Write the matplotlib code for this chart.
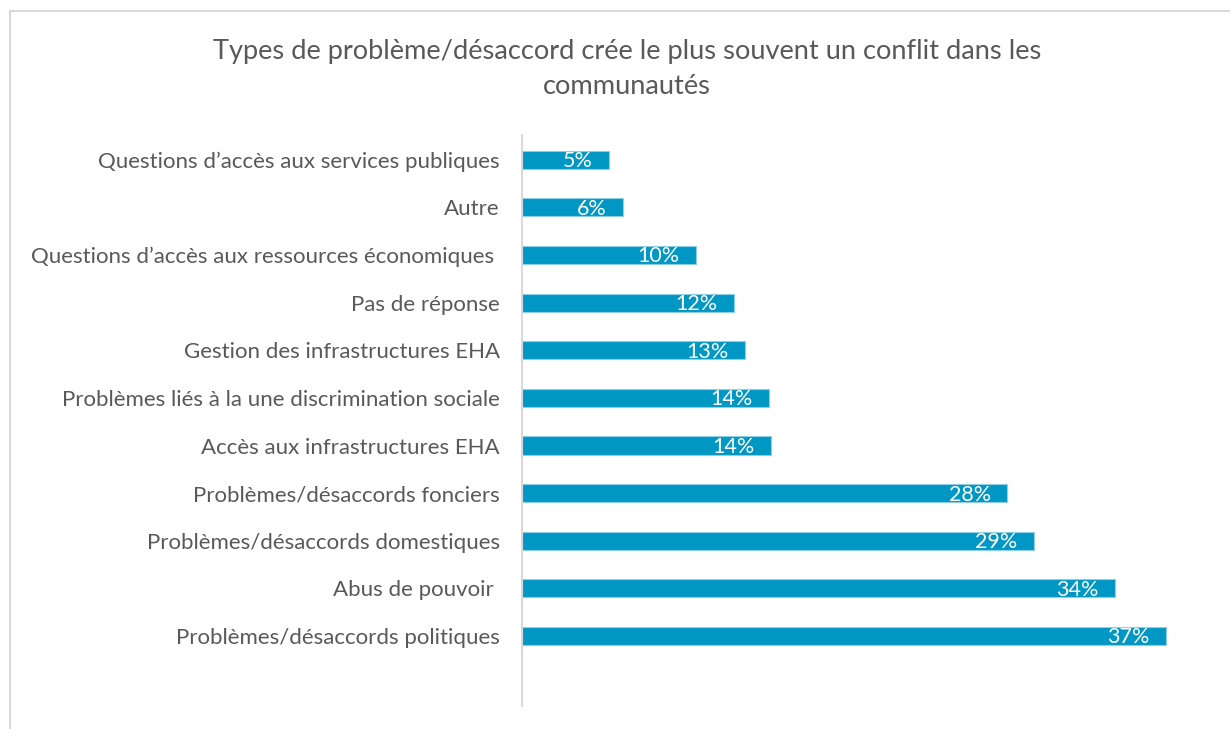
import matplotlib
matplotlib.use("Agg")
import matplotlib.pyplot as plt
from matplotlib.lines import Line2D
from matplotlib.transforms import offset_copy

categories = [
    "Problèmes/désaccords politiques",
    "Abus de pouvoir ",
    "Problèmes/désaccords domestiques",
    "Problèmes/désaccords fonciers",
    "Accès aux infrastructures EHA",
    "Problèmes liés à la une discrimination sociale",
    "Gestion des infrastructures EHA",
    "Pas de réponse",
    "Questions d’accès aux ressources économiques ",
    "Autre",
    "Questions d’accès aux services publiques",
]
values = [37.0, 34.1, 29.4, 27.9, 14.3, 14.2, 12.8, 12.2, 10.0, 5.8, 5.0]
value_labels = ["37%", "34%", "29%", "28%", "14%", "14%", "13%", "12%", "10%", "6%", "5%"]
title = "Types de problème/désaccord crée le plus souvent un conflit dans les\ncommunautés"

plt.rcParams['font.family'] = ['Lato', 'DejaVu Sans']

W, H = 1230, 729
fig = plt.figure(figsize=(W / 100, H / 100), dpi=100)

# chart border (top and left)
fig.add_artist(Line2D([10 / W, 10 / W], [0, 1 - 11 / H], transform=fig.transFigure,
                      color="#d9d9d9", lw=1.5))
fig.add_artist(Line2D([10 / W, 1], [1 - 11 / H, 1 - 11 / H], transform=fig.transFigure,
                      color="#d9d9d9", lw=1.5))

left = 522 / W
width = 696 / W
top = 1 - 135 / H
bottom = 1 - 706 / H
ax = fig.add_axes([left, bottom, width, top - bottom])

ypos = list(range(len(categories)))
ax.barh(ypos, values, height=0.38, color="#0097C4", edgecolor="#8ccfe6", linewidth=0.8)
ax.set_xlim(0, 40)
ax.set_ylim(-1.47, 10.52)

ax.set_yticks(ypos)
ax.set_yticklabels(categories, fontsize=16, color="#595959")
ax.tick_params(axis="y", length=0, pad=16)
ax.set_xticks([])
for s in ["top", "right", "bottom"]:
    ax.spines[s].set_visible(False)
ax.spines["left"].set_color("#d9d9d9")
ax.spines["left"].set_linewidth(1.5)

for y, v, lab in zip(ypos, values, value_labels):
    tr = offset_copy(ax.transData, fig=fig, x=-12, y=-1, units="points")
    ax.text(v, y, lab, transform=tr, ha="right", va="center", color="white", fontsize=15.5)

fig.text(627 / W, 1 - 69 / H, title, ha="center", va="center", fontsize=19.6,
         color="#595959", linespacing=1.55)

fig.savefig("out.png", dpi=100, facecolor="white")
